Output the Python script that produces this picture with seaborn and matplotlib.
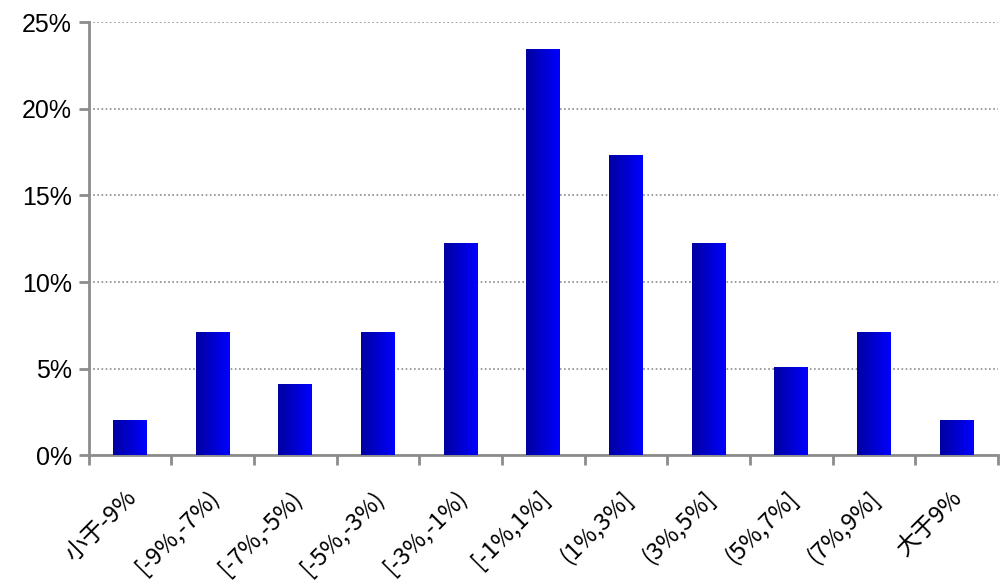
import numpy as np
import pandas as pd
import matplotlib
matplotlib.use("Agg")
import matplotlib.pyplot as plt
import matplotlib.transforms as mtransforms
import seaborn as sns
from matplotlib.colors import LinearSegmentedColormap
from matplotlib.ticker import PercentFormatter, FixedLocator

# Data (share of observations per return bucket, %)
categories = ["小于-9%", "[-9%,-7%)", "[-7%,-5%)", "[-5%,-3%)", "[-3%,-1%)", "[-1%,1%]",
              "(1%,3%]", "(3%,5%]", "(5%,7%]", "(7%,9%]", "大于9%"]
shares = [2.04, 7.14, 4.08, 7.14, 12.24, 23.47, 17.35, 12.24, 5.10, 7.14, 2.04]
y_ticks = [0, 5, 10, 15, 20, 25]

df = pd.DataFrame({"bucket": categories, "share": shares})

sns.set_theme(style="white")
plt.rcParams['font.family'] = ['Liberation Sans', 'Noto Sans CJK SC', 'DejaVu Sans']

fig, ax = plt.subplots(figsize=(10.08, 5.88), dpi=100)
fig.subplots_adjust(left=0.088, right=0.99, top=0.962, bottom=0.226)

sns.barplot(data=df, x="bucket", y="share", color="#0000ff", width=0.41, ax=ax, zorder=3)

# horizontal gradient fill, dark blue to bright blue
grad_cmap = LinearSegmentedColormap.from_list("bluegrad", ["#0000a0", "#0000ff"])
grad = np.linspace(0, 1, 64).reshape(1, -1)
for p in ax.patches:
    x0, y0 = p.get_x(), p.get_y()
    w, h = p.get_width(), p.get_height()
    im = ax.imshow(grad, cmap=grad_cmap, aspect="auto", extent=[x0, x0 + w, y0, y0 + h],
                   zorder=4, interpolation="bilinear")
    im.set_clip_path(p)
    p.set_facecolor("none")
    p.set_edgecolor("none")

ax.set_xlim(-0.5, len(categories) - 0.5)
ax.set_ylim(0, 25)
ax.set_yticks(y_ticks)
ax.yaxis.set_major_formatter(PercentFormatter(decimals=0))
ax.grid(axis="y", color="#8c8c8c", linestyle=(0, (1, 1.5)), linewidth=1.2, zorder=0)
ax.set_xlabel("")
ax.set_ylabel("")

for s in ["top", "right"]:
    ax.spines[s].set_visible(False)
for s in ["left", "bottom"]:
    ax.spines[s].set_color("#8c8c8c")
    ax.spines[s].set_linewidth(2)

ax.tick_params(axis="y", which="major", left=True, length=7, width=2, color="#8c8c8c",
               labelsize=18, labelcolor="black", pad=5)
ax.xaxis.set_minor_locator(FixedLocator(np.arange(-0.5, len(categories), 1.0)))
ax.tick_params(axis="x", which="minor", bottom=True, length=7, width=2, color="#8c8c8c")
ax.tick_params(axis="x", which="major", bottom=False, length=0, pad=22, labelcolor="black")
ax.set_xticks(range(len(categories)))
ax.set_xticklabels(categories, rotation=45, ha="right", rotation_mode="anchor", fontsize=17,
                   family=['Noto Sans CJK SC', 'DejaVu Sans'])

# shift labels so their top-right end sits just right of the category centre
offset = mtransforms.ScaledTranslation(-4 / 72, 0, fig.dpi_scale_trans)
for lbl in ax.get_xticklabels():
    lbl.set_transform(lbl.get_transform() + offset)

fig.savefig("out.png", dpi=100)
